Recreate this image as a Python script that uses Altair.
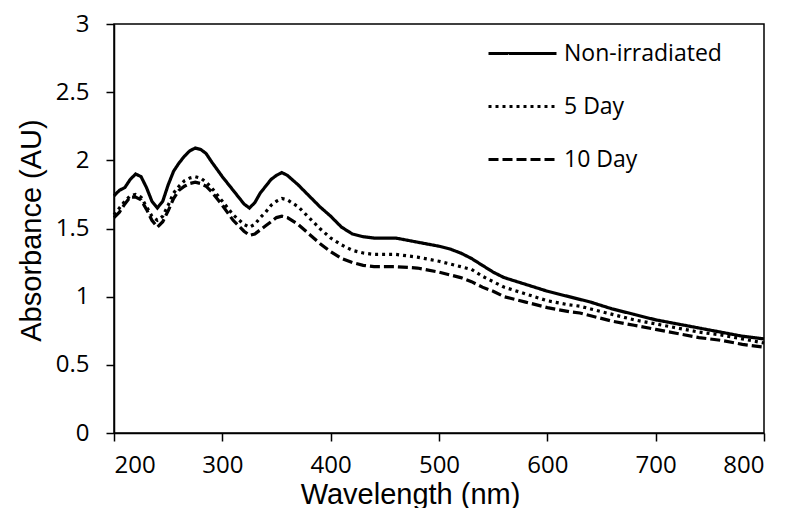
import altair as alt
import pandas as pd

series_names = ["Non-irradiated", "5 Day", "10 Day"]

wavelength = [200, 205, 210, 215, 220, 225, 230, 235, 240, 245, 250, 255, 260, 265, 270, 275,
              280, 285, 290, 300, 310, 320, 325, 330, 335, 340, 345, 350, 355, 360, 370, 380,
              390, 400, 410, 420, 430, 440, 460, 480, 500, 510, 520, 530, 540, 550, 560, 580,
              600, 620, 630, 640, 660, 680, 700, 720, 740, 760, 780, 800]

non_irradiated = [1.74, 1.78, 1.80, 1.86, 1.90, 1.88, 1.80, 1.70, 1.65, 1.70, 1.82, 1.92, 1.98, 2.03, 2.07, 2.09,
                  2.08, 2.05, 1.99, 1.88, 1.78, 1.68, 1.65, 1.69, 1.76, 1.81, 1.86, 1.89, 1.91, 1.89, 1.82, 1.74,
                  1.66, 1.59, 1.51, 1.46, 1.44, 1.43, 1.43, 1.40, 1.37, 1.35, 1.32, 1.28, 1.23, 1.18, 1.14, 1.09,
                  1.04, 1.00, 0.98, 0.96, 0.91, 0.87, 0.83, 0.80, 0.77, 0.74, 0.71, 0.69]

day5 = [1.60, 1.65, 1.70, 1.74, 1.75, 1.73, 1.66, 1.59, 1.56, 1.59, 1.67, 1.76, 1.81, 1.85, 1.87, 1.88,
        1.87, 1.84, 1.80, 1.70, 1.60, 1.53, 1.51, 1.53, 1.58, 1.62, 1.67, 1.70, 1.72, 1.71, 1.66, 1.58,
        1.50, 1.43, 1.38, 1.34, 1.32, 1.31, 1.31, 1.29, 1.26, 1.24, 1.22, 1.20, 1.15, 1.11, 1.07, 1.02,
        0.97, 0.94, 0.93, 0.91, 0.87, 0.83, 0.80, 0.77, 0.74, 0.72, 0.69, 0.66]

day10 = [1.58, 1.62, 1.68, 1.73, 1.73, 1.71, 1.64, 1.56, 1.51, 1.55, 1.63, 1.72, 1.78, 1.81, 1.83, 1.84,
         1.83, 1.81, 1.77, 1.67, 1.56, 1.48, 1.45, 1.46, 1.49, 1.52, 1.55, 1.58, 1.59, 1.58, 1.53, 1.46,
         1.39, 1.33, 1.28, 1.25, 1.23, 1.22, 1.22, 1.21, 1.18, 1.16, 1.14, 1.11, 1.07, 1.04, 1.00, 0.96,
         0.92, 0.89, 0.88, 0.86, 0.82, 0.79, 0.76, 0.73, 0.70, 0.68, 0.65, 0.63]

x_ticks = [200, 300, 400, 500, 600, 700, 800]
y_ticks = [0, 0.5, 1, 1.5, 2, 2.5, 3]

rows = []
for name, vals in zip(series_names, [non_irradiated, day5, day10]):
    for i, (w, v) in enumerate(zip(wavelength, vals)):
        rows.append({"Wavelength": w, "Absorbance": v, "Sample": name, "order": i})
df = pd.DataFrame(rows)

chart = alt.Chart(df).mark_line(strokeWidth=3.2, color="black", strokeCap="butt").encode(
    x=alt.X("Wavelength:Q",
            scale=alt.Scale(domain=[200, 800], nice=False, zero=False),
            axis=alt.Axis(title="Wavelength (nm)", values=x_ticks, format="d",
                          titleX=296, titleY=70, titleAlign="center", titleBaseline="alphabetic",
                          labelPadding=12)),
    y=alt.Y("Absorbance:Q",
            scale=alt.Scale(domain=[0, 3], nice=False),
            axis=alt.Axis(title="Absorbance (AU)", values=y_ticks, format="~g",
                          titleAngle=-90, titleX=-74, titleY=206, titleAlign="center",
                          titleBaseline="alphabetic", labelPadding=17)),
    strokeDash=alt.StrokeDash("Sample:N",
                              scale=alt.Scale(domain=series_names, range=[[1, 0], [3, 4], [10, 4]]),
                              legend=alt.Legend(title=None, orient="none", legendX=373, legendY=-6,
                                                symbolType="stroke", symbolSize=4624,
                                                symbolStrokeWidth=3, symbolStrokeColor="black",
                                                labelFont="Open Sans", labelFontSize=23,
                                                labelColor="black", labelOffset=6,
                                                rowPadding=5)),
    detail="Sample:N",
    order="order:Q",
).properties(
    width=650, height=409,
    autosize=alt.AutoSizeParams(type="none"),
    padding={"left": 106, "top": 16, "right": 16, "bottom": 75},
).configure_view(
    stroke="black", strokeWidth=1.5
).configure_axis(
    grid=False, domainColor="black", domainWidth=1.5, tickColor="black", tickWidth=1.5,
    tickSize=8, labelFont="Open Sans", labelFontSize=24, labelColor="black",
    titleFont="Liberation Sans", titleFontSize=29, titleFontWeight="normal", titleColor="black",
)

chart.save("out.html", embed_options={"renderer": "svg", "actions": False})
